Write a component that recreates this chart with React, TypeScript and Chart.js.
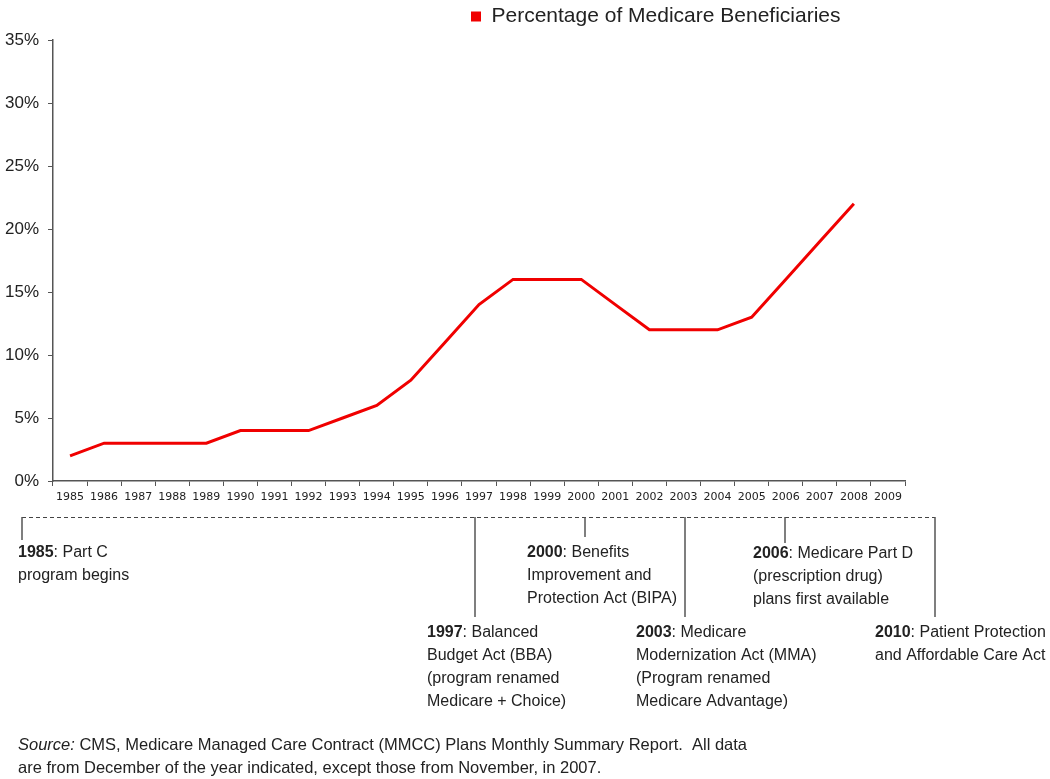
import React, { useEffect, useRef } from "react";
import { Chart, registerables } from "chart.js";

Chart.register(...registerables);

const years = [
  "1985", "1986", "1987", "1988", "1989", "1990", "1991", "1992", "1993", "1994",
  "1995", "1996", "1997", "1998", "1999", "2000", "2001", "2002", "2003", "2004",
  "2005", "2006", "2007", "2008", "2009",
];
const sharePct: (number | null)[] = [
  2, 3, 3, 3, 3, 4, 4, 4, 5, 6,
  8, 11, 14, 16, 16, 16, 14, 12, 12, 12,
  13, 16, 19, 22, null,
];
const seriesLabel = "Percentage of Medicare Beneficiaries";
const yMin = 0;
const yMax = 35;
const yStep = 5;

const eventYears = ["1985", "1997", "2000", "2003", "2006", "2010"];
const eventTexts = [
  ["Part C", "program begins"],
  ["Balanced", "Budget Act (BBA)", "(program renamed", "Medicare + Choice)"],
  ["Benefits", "Improvement and", "Protection Act (BIPA)"],
  ["Medicare", "Modernization Act (MMA)", "(Program renamed", "Medicare Advantage)"],
  ["Medicare Part D", "(prescription drug)", "plans first available"],
  ["Patient Protection", "and Affordable Care Act"],
];
const sourceLead = "Source:";
const sourceLines = [
  " CMS, Medicare Managed Care Contract (MMCC) Plans Monthly Summary Report.  All data",
  "are from December of the year indicated, except those from November, in 2007.",
];

// layout of the timeline annotations (pixels in the canvas)
const eventLayout = [
  { lineX: 22, lineBottom: 540, textX: 18, textY: 553 },
  { lineX: 475, lineBottom: 617, textX: 427, textY: 633 },
  { lineX: 585, lineBottom: 537, textX: 527, textY: 553 },
  { lineX: 685, lineBottom: 617, textX: 636, textY: 633 },
  { lineX: 785, lineBottom: 543, textX: 753, textY: 554 },
  { lineX: 935, lineBottom: 617, textX: 875, textY: 633 },
];

const W = 1050;
const H = 779;
const AREA_LEFT = 53;
const AREA_RIGHT = 905;
const AREA_BOTTOM = 481;
const FONT = "'Liberation Sans', Arial, sans-serif";
const TEXT = "#222222";
const RED = "#f00000";

const timelinePlugin = {
  id: "timeline",
  afterDraw(chart: any) {
    const ctx = chart.ctx as CanvasRenderingContext2D;
    ctx.save();
    // dashed timeline
    ctx.strokeStyle = "#444";
    ctx.lineWidth = 1;
    ctx.setLineDash([4, 3]);
    ctx.beginPath();
    ctx.moveTo(22, 517.5);
    ctx.lineTo(935, 517.5);
    ctx.stroke();
    ctx.setLineDash([]);
    // vertical connectors
    ctx.strokeStyle = "#555";
    ctx.lineWidth = 1.5;
    eventLayout.forEach((l) => {
      ctx.beginPath();
      ctx.moveTo(l.lineX, 517);
      ctx.lineTo(l.lineX, l.lineBottom);
      ctx.stroke();
    });
    // texts
    ctx.fillStyle = TEXT;
    ctx.textBaseline = "middle";
    ctx.textAlign = "left";
    const lh = 23;
    eventYears.forEach((yr, i) => {
      const l = eventLayout[i];
      const lines = eventTexts[i];
      ctx.font = `bold 16px ${FONT}`;
      ctx.fillText(yr, l.textX, l.textY);
      const bw = ctx.measureText(yr).width;
      ctx.font = `16px ${FONT}`;
      ctx.fillText(": " + lines[0], l.textX + bw, l.textY);
      for (let k = 1; k < lines.length; k++) {
        ctx.fillText(lines[k], l.textX, l.textY + k * lh);
      }
    });
    // source
    ctx.font = `italic 16.5px ${FONT}`;
    ctx.fillText(sourceLead, 18, 745);
    const sw = ctx.measureText(sourceLead).width;
    ctx.font = `16.5px ${FONT}`;
    ctx.fillText(sourceLines[0], 18 + sw, 745);
    ctx.fillText(sourceLines[1], 18, 768);
    ctx.restore();
  },
};

const legendShiftPlugin = {
  id: "legendShift",
  afterLayout(chart: any) {
    const lg = chart.legend;
    if (!lg) return;
    const w = lg.right - lg.left;
    lg.left = 465;
    lg.right = lg.left + w;
    const h = lg.bottom - lg.top;
    lg.top = 0;
    lg.bottom = h;
  },
};

export default function App() {
  const ref = useRef<HTMLCanvasElement | null>(null);
  useEffect(() => {
    if (!ref.current) return;
    const chart = new Chart(ref.current, {
      type: "line",
      data: {
        labels: years,
        datasets: [
          {
            label: seriesLabel,
            data: sharePct,
            borderColor: RED,
            backgroundColor: RED,
            borderWidth: 3,
            pointRadius: 0,
            tension: 0,
            spanGaps: false,
          },
        ],
      },
      options: {
        responsive: false,
        animation: false,
        layout: { padding: { left: 0, right: W - AREA_RIGHT, top: 3, bottom: 0 } },
        plugins: {
          tooltip: { enabled: false },
          legend: {
            position: "top",
            align: "start",
            labels: {
              boxWidth: 10,
              boxHeight: 10,
              padding: 6,
              color: TEXT,
              font: { family: FONT, size: 21 },
              generateLabels: (c: any) =>
                (Chart.defaults.plugins.legend.labels as any)
                  .generateLabels(c)
                  .map((l: any) => ({ ...l, lineWidth: 0 })),
            },
          },
        },
        scales: {
          x: {
            type: "category",
            offset: true,
            afterFit: (s: any) => {
              s.height = H - AREA_BOTTOM;
            },
            grid: {
              offset: true,
              drawOnChartArea: false,
              tickLength: 5,
              color: "#555",
            },
            border: { display: true, color: "#555", width: 1.5 },
            ticks: {
              autoSkip: false,
              maxRotation: 0,
              minRotation: 0,
              padding: 5,
              color: TEXT,
              font: { family: "'DejaVu Sans', Verdana, sans-serif", size: 11 },
            },
          },
          y: {
            min: yMin,
            max: yMax,
            afterFit: (s: any) => {
              s.width = AREA_LEFT;
            },
            grid: { drawOnChartArea: false, tickLength: 5, color: "#555" },
            border: { display: true, color: "#555", width: 1.5 },
            ticks: {
              stepSize: yStep,
              padding: 9,
              color: TEXT,
              font: { family: FONT, size: 17 },
              callback: (v: any) => `${v}%`,
            },
          },
        },
      },
      plugins: [legendShiftPlugin, timelinePlugin],
    });
    return () => chart.destroy();
  }, []);

  return (
    <div style={{ position: "fixed", left: 0, top: 0, width: W, height: H, background: "#fff" }}>
      <canvas ref={ref} width={W} height={H} style={{ display: "block" }} />
    </div>
  );
}
